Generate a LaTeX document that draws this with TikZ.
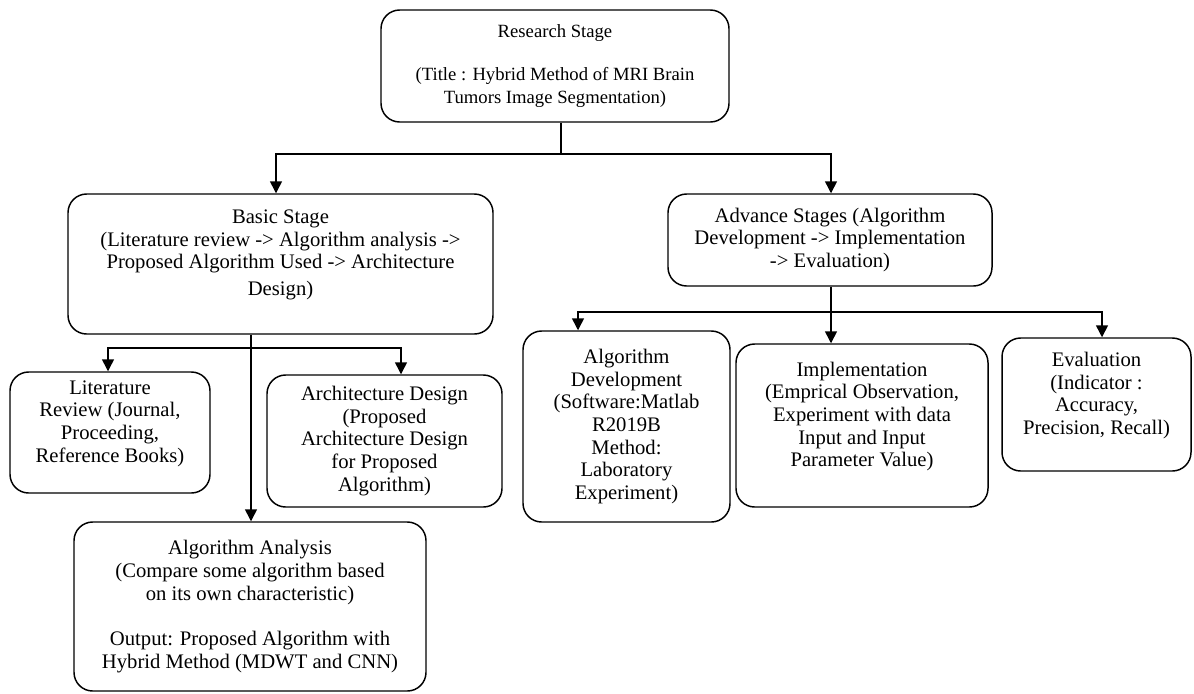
\documentclass[tikz,border=0pt]{standalone}
\usepackage{fontspec}
\setmainfont{Liberation Serif}
\usetikzlibrary{arrows.meta, positioning, calc}

\begin{document}
\begin{tikzpicture}[
      x=0.75pt, y=-0.75pt,
      % Styles
      stage/.style={
        rectangle, draw, rounded corners=14pt, line width=1.1pt,
        align=center, inner sep=2pt,
        font=\fontsize{15.5}{17}\selectfont
      },
      title_box/.style={
        stage, font=\fontsize{14}{17}\selectfont
      },
      tree_line/.style={
        line width=1.1pt
      },
      tree_arrow/.style={
        tree_line, -{Triangle[width=9pt,length=9pt]}
      },
      both_arrow/.style={
        tree_line, {Triangle[width=9pt,length=9pt]}-{Triangle[width=9pt,length=9pt]}
      }
    ]
    \useasboundingbox (0,0) rectangle (1194,693);

    % --- 1. NODES ---

    % Top
    \node[title_box, minimum width=261pt, minimum height=84pt] (research) at (555,66)
      {Research Stage\\[15pt](Title : Hybrid Method of MRI Brain\\Tumors Image Segmentation)};

    % Two stages
    \node[stage, minimum width=318.75pt, minimum height=105pt] (basic) at (280.5,264)
      {Basic Stage\\(Literature review -> Algorithm analysis ->\\Proposed Algorithm Used -> Architecture\\[3pt]Design)\\~};
    \node[stage, minimum width=243pt, minimum height=69pt] (advance) at (830,240)
      {Advance Stages (Algorithm\\Development -> Implementation\\-> Evaluation)};

    % Basic stage children
    \node[stage, minimum width=150pt, minimum height=90.75pt] (litrev) at (110,432.5)
      {Literature\\Review (Journal,\\Proceeding,\\Reference Books)\\~};
    \node[stage, minimum width=176.25pt, minimum height=99pt] (archdesign) at (384.5,441)
      {Architecture Design\\(Proposed\\Architecture Design\\for Proposed\\Algorithm)};
    \node[stage, minimum width=264pt, minimum height=126.75pt] (analysis) at (250,606.5)
      {Algorithm Analysis\\(Compare some algorithm based\\on its own characteristic)\\[17pt]Output: Proposed Algorithm with\\Hybrid Method (MDWT and CNN)};

    % Advance stage children
    \node[stage, minimum width=155.25pt, minimum height=143.25pt] (algodev) at (626.5,426.5)
      {Algorithm\\Development\\(Software:Matlab\\R2019B\\Method:\\Laboratory\\Experiment)};
    \node[stage, minimum width=189pt, minimum height=122.25pt] (implementation) at (862,425.5)
      {Implementation\\(Emprical Observation,\\Experiment with data\\Input and Input\\Parameter Value)\\~};
    \node[stage, minimum width=141.75pt, minimum height=99.75pt] (evaluation) at (1096.5,404.5)
      {Evaluation\\(Indicator :\\Accuracy,\\Precision, Recall)\\~};

    % --- 2. EDGES ---

    % Research -> stages
    \coordinate (top_split) at (561,154);
    \draw[tree_line] (research.south -| top_split) -- (top_split);
    \draw[both_arrow] ($(basic.north)+(-4.5,0)$) |- (top_split) -| ($(advance.north)+(1,0)$);

    % Basic stage -> children
    \coordinate (basic_split) at (251,348);
    \draw[tree_line] (basic.south -| basic_split) -- (basic_split);
    \draw[both_arrow] ($(litrev.north)+(-2,0)$) |- (basic_split) -| ($(archdesign.north)+(16.5,0)$);
    \draw[tree_arrow] (basic_split) -- (basic_split |- analysis.north);

    % Advance stage -> children
    \coordinate (adv_split) at (831,312);
    \draw[tree_line] (advance.south -| adv_split) -- (adv_split);
    \draw[both_arrow] ($(algodev.north)+(-48.5,0)$) |- (adv_split) -| ($(evaluation.north)+(5.5,0)$);
    \draw[tree_arrow] (adv_split) -- (adv_split |- implementation.north);

\end{tikzpicture}
\end{document}
